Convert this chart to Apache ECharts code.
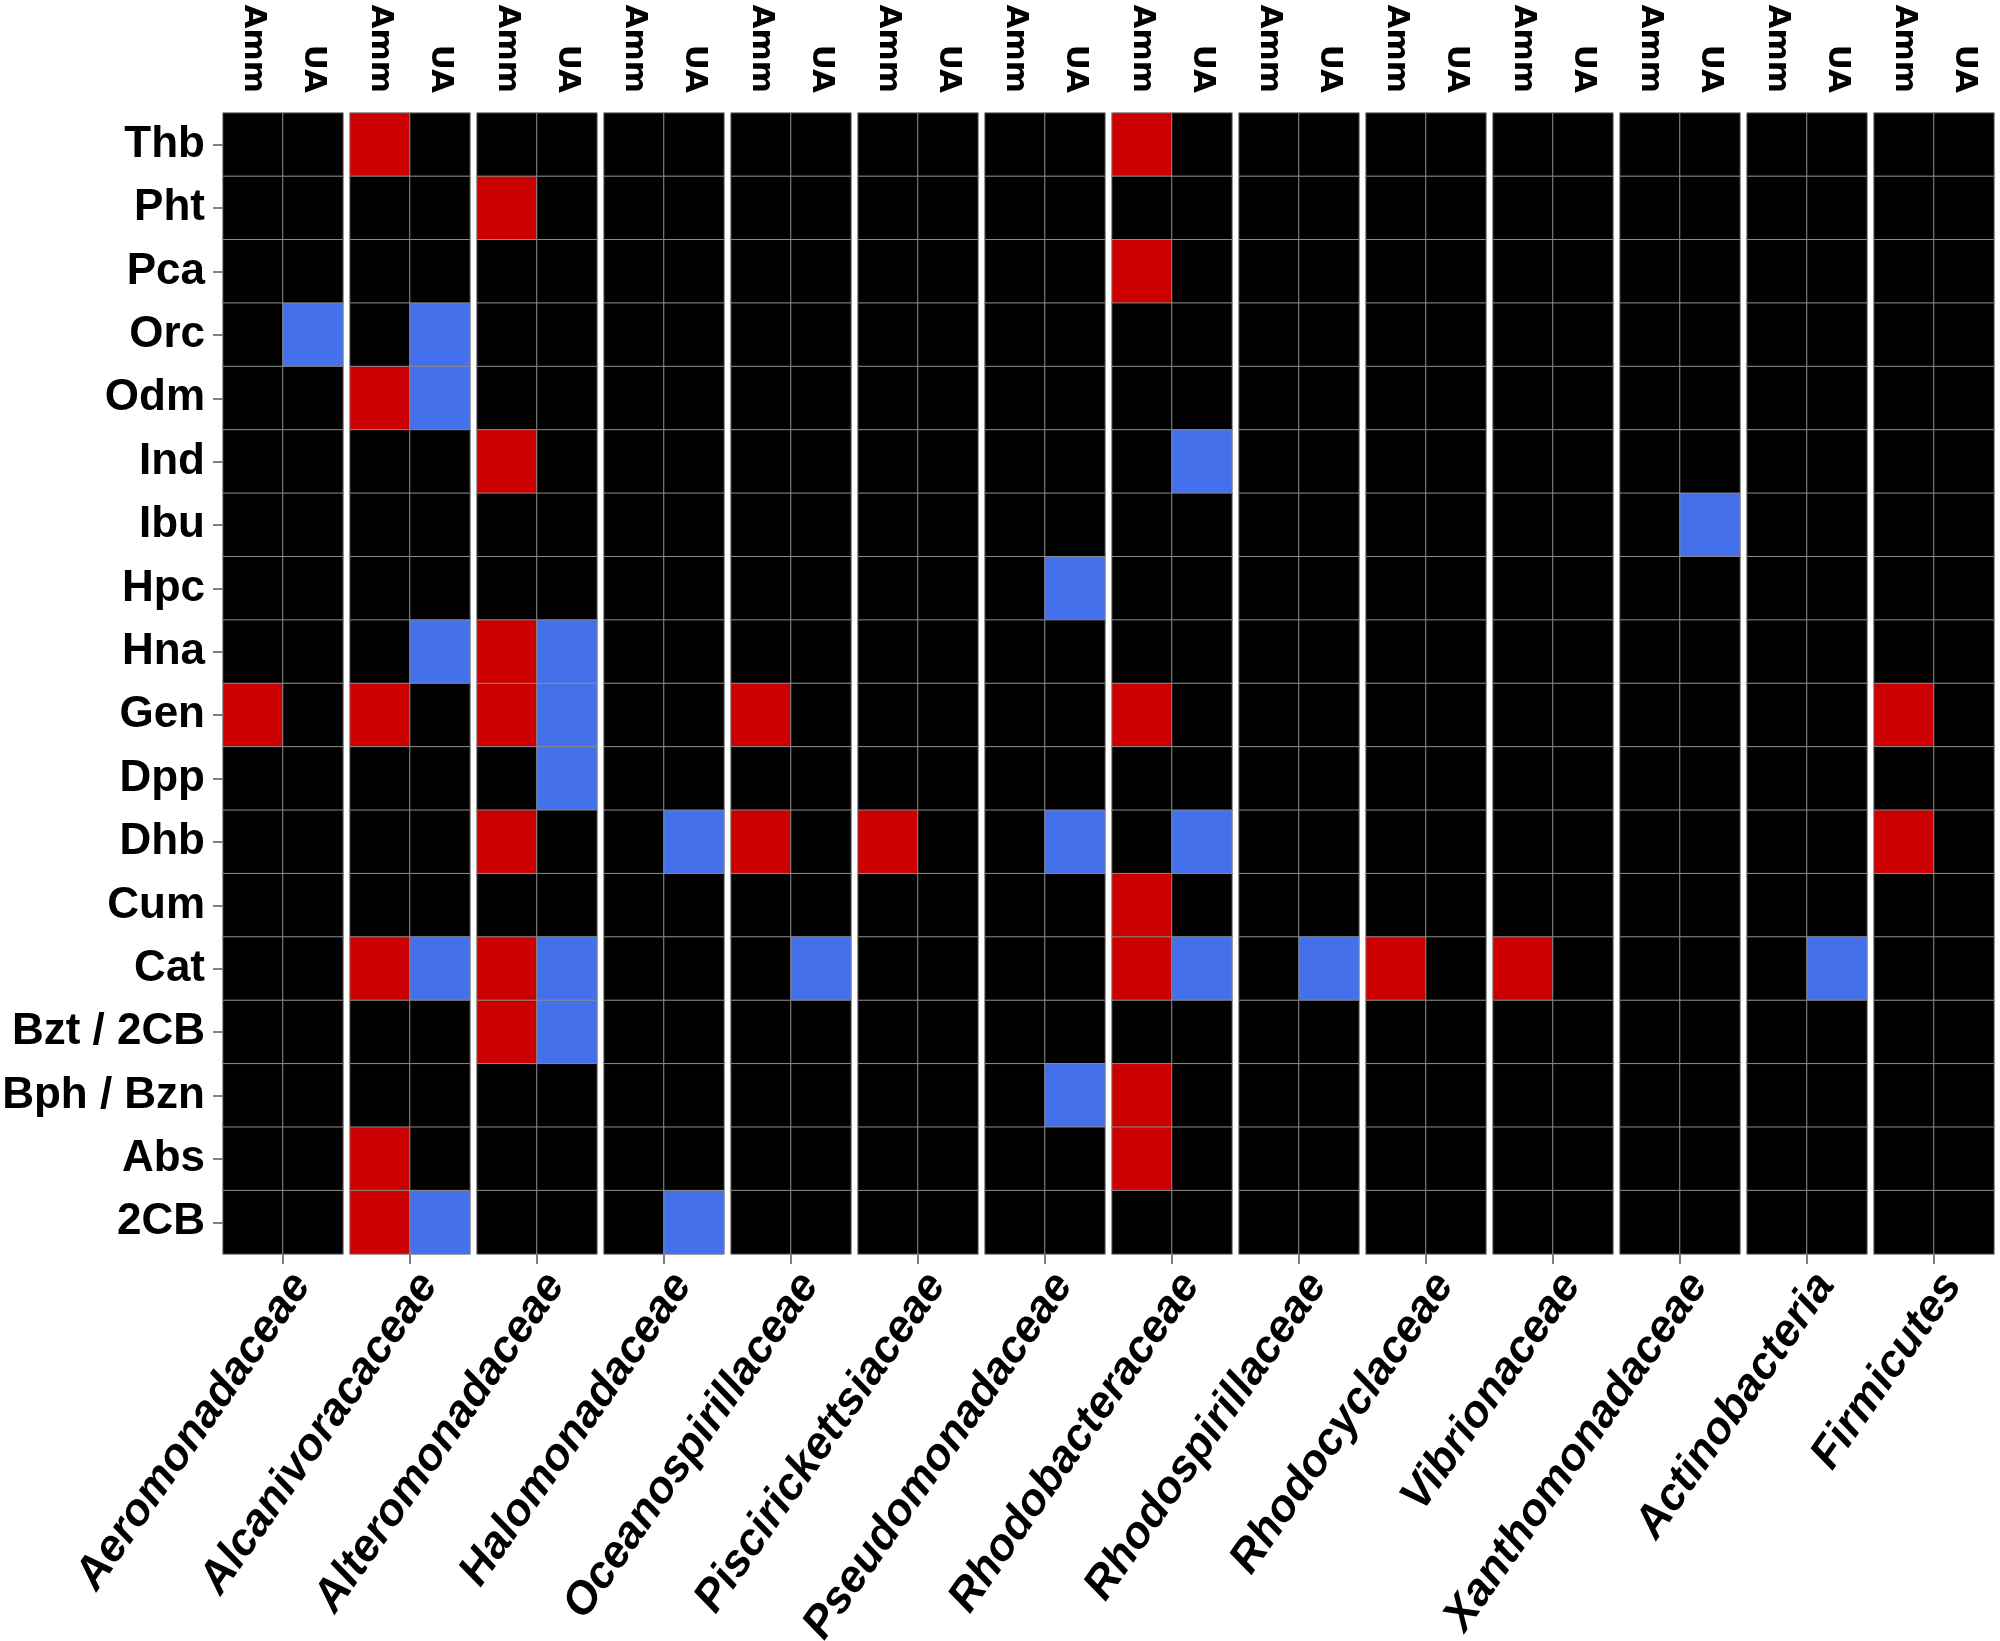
<!DOCTYPE html>
<html>
<head>
<meta charset="utf-8">
<script src="https://cdn.jsdelivr.net/npm/echarts@6/dist/echarts.min.js"></script>
<style>
  html, body { margin: 0; padding: 0; background: #fff; }
  #chart { width: 2000px; height: 1641px; }
</style>
</head>
<body>
<div id="chart"></div>
<script>
// row labels, top to bottom
const rows = ['Thb', 'Pht', 'Pca', 'Orc', 'Odm', 'Ind', 'Ibu', 'Hpc', 'Hna', 'Gen',
    'Dpp', 'Dhb', 'Cum', 'Cat', 'Bzt / 2CB', 'Bph / Bzn', 'Abs', '2CB'];
// one panel per family
const families = ['Aeromonadaceae', 'Alcanivoracaceae', 'Alteromonadaceae', 'Halomonadaceae',
    'Oceanospirillaceae', 'Piscirickettsiaceae', 'Pseudomonadaceae', 'Rhodobacteraceae',
    'Rhodospirillaceae', 'Rhodocyclaceae', 'Vibrionaceae', 'Xanthomonadaceae',
    'Actinobacteria', 'Firmicutes'];
const treatments = ['Amm', 'UA'];
// rows marked under Amm (red), per family
const ammHits = [
    ['Gen'],
    ['Thb', 'Odm', 'Gen', 'Cat', 'Abs', '2CB'],
    ['Pht', 'Ind', 'Hna', 'Gen', 'Dhb', 'Cat', 'Bzt / 2CB'],
    [],
    ['Gen', 'Dhb'],
    ['Dhb'],
    [],
    ['Thb', 'Pca', 'Gen', 'Cum', 'Cat', 'Bph / Bzn', 'Abs'],
    [],
    ['Cat'],
    ['Cat'],
    [],
    [],
    ['Gen', 'Dhb']
];
// rows marked under UA (blue), per family
const uaHits = [
    ['Orc'],
    ['Orc', 'Odm', 'Hna', 'Cat', '2CB'],
    ['Hna', 'Gen', 'Dpp', 'Cat', 'Bzt / 2CB'],
    ['Dhb', '2CB'],
    ['Cat'],
    [],
    ['Hpc', 'Dhb', 'Bph / Bzn'],
    ['Ind', 'Dhb', 'Cat'],
    ['Cat'],
    [],
    [],
    ['Ibu'],
    ['Cat'],
    []
];

const FONT = "'Liberation Sans', Arial, sans-serif";
const tickStyle = {color: '#7f7f7f', width: 2};

const grids = [];
const xAxes = [];
const yAxes = [];
const series = [];

families.forEach((fam, i) => {
    // fixed panel boxes, labels may run past the page edge without squeezing the grid
    grids.push({left: 223 + i * 127, top: 113, width: 120, height: 1141,
        containLabel: false, outerBoundsMode: 'none'});
    // top axis: treatments
    xAxes.push({
        type: 'category', gridIndex: i, position: 'top', data: treatments,
        axisLine: {show: false}, axisTick: {show: false}, splitLine: {show: false},
        axisLabel: {rotate: 90, interval: 0, fontSize: 31, fontWeight: 'bold',
            fontFamily: "'DejaVu Sans', sans-serif", color: '#000', margin: 20}
    });
    // bottom axis: family name, hung from its top-right corner
    xAxes.push({
        type: 'category', gridIndex: i, position: 'bottom', data: [fam],
        axisLine: {show: false}, splitLine: {show: false},
        axisTick: {show: true, alignWithLabel: true, length: 10, lineStyle: tickStyle},
        axisLabel: {rotate: 55, interval: 0, fontSize: 45, fontWeight: 'bold', fontStyle: 'italic',
            fontFamily: FONT, color: '#000', margin: 11, align: 'right', verticalAlign: 'top'}
    });
    yAxes.push({
        type: 'category', gridIndex: i, data: rows, inverse: true, show: i === 0,
        axisLine: {show: false}, splitLine: {show: false},
        axisTick: {show: true, alignWithLabel: true, length: 10, lineStyle: tickStyle},
        axisLabel: {interval: 0, fontSize: 44, fontWeight: 'bold', fontFamily: FONT,
            color: '#000', margin: 18}
    });

    const data = [];
    rows.forEach((r, ri) => {
        data.push([0, ri, ammHits[i].includes(r) ? 1 : 0]);
        data.push([1, ri, uaHits[i].includes(r) ? 2 : 0]);
    });
    series.push({
        type: 'heatmap', xAxisIndex: i * 2, yAxisIndex: i, data: data,
        itemStyle: {borderColor: '#8c8c8c', borderWidth: 1},
        emphasis: {disabled: true}
    });
});

const myChart = echarts.init(document.getElementById('chart'));
myChart.setOption({
    animation: false,
    backgroundColor: '#fff',
    grid: grids,
    xAxis: xAxes,
    yAxis: yAxes,
    visualMap: {
        type: 'piecewise', show: false, dimension: 2,
        seriesIndex: series.map((s, i) => i),
        pieces: [
            {value: 0, color: '#000000'},
            {value: 1, color: '#cc0000'},
            {value: 2, color: '#4470eb'}
        ]
    },
    series: series
});
</script>
</body>
</html>
